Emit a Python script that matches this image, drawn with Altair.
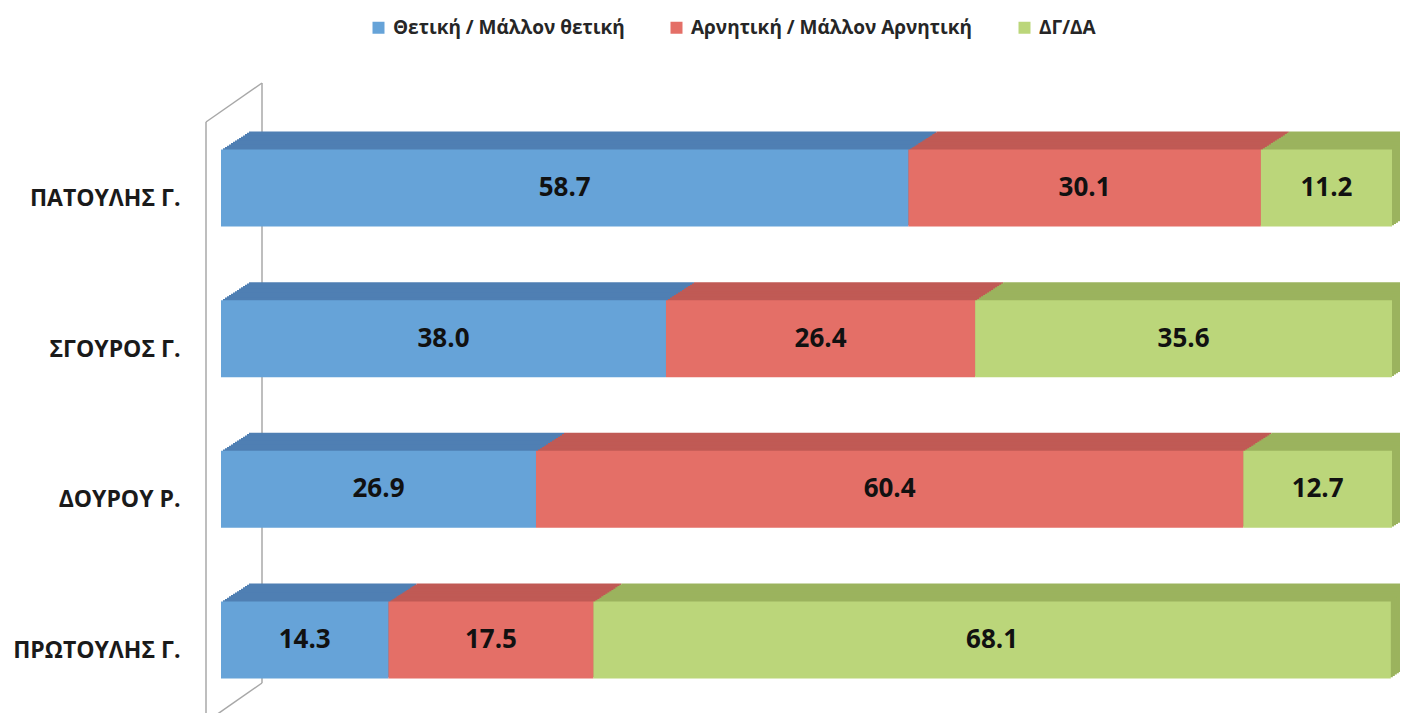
import altair as alt
import pandas as pd

candidates = ["ΠΑΤΟΥΛΗΣ Γ.", "ΣΓΟΥΡΟΣ Γ.", "ΔΟΥΡΟΥ Ρ.", "ΠΡΩΤΟΥΛΗΣ Γ."]
series = ["Θετική / Μάλλον θετική", "Αρνητική / Μάλλον Αρνητική", "ΔΓ/ΔΑ"]
positive = [58.7, 38.0, 26.9, 14.3]
negative = [30.1, 26.4, 60.4, 17.5]
dkna = [11.2, 35.6, 12.7, 68.1]

front_colors = ["#66a3d8", "#e46f67", "#bbd67a"]
top_colors = ["#4f7fb3", "#c05a55", "#9bb35e"]

rows = []
for i, c in enumerate(candidates):
    for j, vals in enumerate([positive, negative, dkna]):
        rows.append({"candidate": c, "series": series[j], "order": j, "value": vals[i]})
df = pd.DataFrame(rows)

W, H = 1171, 588
y_scale = alt.Scale(domain=candidates, paddingInner=0.489, paddingOuter=0.196)
x_scale = alt.Scale(domain=[0, 100], nice=False, zero=True)
y_enc = alt.Y("candidate:N", scale=y_scale, sort=candidates, title=None,
              axis=alt.Axis(domain=False, ticks=False, labelPadding=41, labelOffset=11,
                            labelFont="Open Sans", labelFontSize=23, labelFontWeight="bold",
                            labelColor="#1a1a1a", grid=False, labelLimit=0))

base = alt.Chart(df).transform_stack(
    stack="value", groupby=["candidate"], as_=["x0", "x1"], sort=[alt.SortField("order")]
)

N = 14
DX, DY = 28, 18
layers = []

# left wall (decoration)
wall_src = alt.Chart(pd.DataFrame({"a": [0]}))
wall_style = dict(color="#a8a8a8", strokeWidth=1.5)
walls = [
    (-15, -15, 2, 640),
    (41, 41, -37, 563),
    (-15, 41, 2, -37),
    (41, -15, 563, 602),
]
for x1, x2, y1, y2 in walls:
    layers.append(wall_src.mark_rule(**wall_style).encode(
        x=alt.value(x1), x2=alt.value(x2), y=alt.value(y1), y2=alt.value(y2)))

# 3D depth (swept copies of the bars)
for k in range(N, 0, -1):
    ox = DX * k / N
    oy = -DY * k / N
    layers.append(base.mark_bar(xOffset=ox, x2Offset=ox, yOffset=oy, y2Offset=oy).encode(
        x=alt.X("x0:Q", scale=x_scale, axis=None),
        x2="x1:Q",
        y=y_enc,
        color=alt.Color("series:N", scale=alt.Scale(domain=series, range=top_colors), legend=None),
    ))

# front faces
layers.append(base.mark_bar().encode(
    x=alt.X("x0:Q", scale=x_scale, axis=None),
    x2="x1:Q",
    y=y_enc,
    color=alt.Color("series:N", scale=alt.Scale(domain=series, range=front_colors),
                    sort=series,
                    legend=alt.Legend(title=None, orient="none", direction="horizontal",
                                      legendX=148, legendY=-102, symbolType="square",
                                      symbolSize=144, symbolStrokeWidth=0,
                                      labelFont="Open Sans", labelFontSize=19,
                                      labelFontWeight="bold", labelColor="#262626",
                                      columnPadding=42, labelOffset=5, labelLimit=0)),
))

# value labels
layers.append(base.transform_calculate(mid="(datum.x0 + datum.x1) / 2").mark_text(
    font="Open Sans", fontSize=26, fontWeight="bold", color="#111111", baseline="middle"
).encode(
    x=alt.X("mid:Q", scale=x_scale, axis=None),
    y=y_enc,
    text=alt.Text("value:Q", format=".1f"),
))

chart = alt.layer(*layers).resolve_scale(color="independent").properties(
    width=W, height=H,
    autosize=alt.AutoSizeParams(type="none"),
    padding={"left": 213, "top": 112, "right": 8, "bottom": 5},
).configure_view(stroke=None)

chart.save("out.html", embed_options={"renderer": "svg", "actions": False})
